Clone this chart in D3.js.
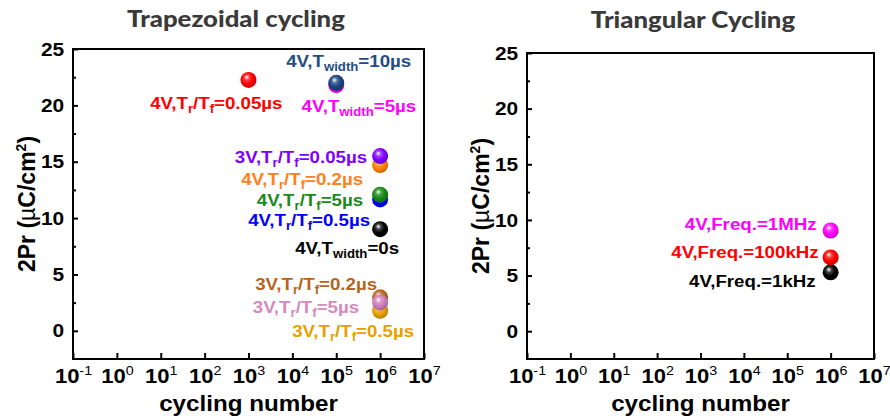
<!DOCTYPE html>
<html>
<head>
<meta charset="utf-8">
<script src="https://d3js.org/d3.v7.min.js"></script>
<style>
  body { margin: 0; background: #fff; }
  text { font-family: Arial, "Liberation Sans", sans-serif; font-weight: bold; }
</style>
</head>
<body>
<svg id="chart" width="890" height="420"></svg>
<script>
// axis ticks
var yTicks = [0, 5, 10, 15, 20, 25];
var yMinor = [2.5, 7.5, 12.5, 17.5, 22.5];
var xTicks = [1e-1, 1e0, 1e1, 1e2, 1e3, 1e4, 1e5, 1e6, 1e7];

// trapezoidal cycling (draw order: later points sit on top)
var trapNames = ["4V,T_{r}/T_{f}=0.05µs", "4V,T_{width}=5µs", "4V,T_{width}=10µs",
  "4V,T_{r}/T_{f}=0.2µs", "3V,T_{r}/T_{f}=0.05µs", "4V,T_{r}/T_{f}=0.5µs",
  "4V,T_{r}/T_{f}=5µs", "4V,T_{width}=0s", "3V,T_{r}/T_{f}=0.2µs",
  "3V,T_{r}/T_{f}=0.5µs", "3V,T_{r}/T_{f}=5µs"];
var trapCycles = [1e3, 1e5, 1e5, 1e6, 1e6, 1e6, 1e6, 1e6, 1e6, 1e6, 1e6];
var trap2Pr = [22.26, 21.8, 22.0, 14.7, 15.5, 11.66, 12.08, 9.02, 2.97, 1.78, 2.52];
var trapColors = ["#ff0000", "#ff00ff", "#1c4482", "#ff8000", "#8000ff", "#0000ff",
  "#138a13", "#000000", "#b5651d", "#e8a000", "#d07cba"];
var trapLabelColors = ["#ff0000", "#ff00ff", "#1f4e86", "#ff8020", "#8000ff", "#0000ff",
  "#1a8a1a", "#000000", "#b5651d", "#e8a000", "#d58abf"];
// label offset from its point, px (text anchored at its end)
var trapLabelDx = [34, 80, 75, -17, -13, -10, -17, 19, -3, 34, -21];
var trapLabelDy = [29, 27, -16, 20, 7, 27, 11, 25, -7, 26, 11];

// triangular cycling
var triNames = ["4V,Freq.=1kHz", "4V,Freq.=100kHz", "4V,Freq.=1MHz"];
var triCycles = [1e6, 1e6, 1e6];
var tri2Pr = [5.29, 6.63, 9.05];
var triColors = ["#000000", "#ff0000", "#ff00ff"];
var triLabelDx = [-15, -12, -14];
var triLabelDy = [15, 1, 0];

var svg = d3.select("#chart");
var defs = svg.append("defs");
var stretch = 1.1; // the picture text is a bit wide

function ballFill(color) {
  var id = "ball" + color.replace("#", "");
  if (defs.select("#" + id).empty()) {
    var gr = defs.append("radialGradient").attr("id", id)
      .attr("cx", 0.45).attr("cy", 0.42).attr("r", 0.6)
      .attr("fx", 0.38).attr("fy", 0.32);
    gr.append("stop").attr("offset", "0%").attr("stop-color", "#ffffff");
    gr.append("stop").attr("offset", "28%").attr("stop-color", d3.interpolateRgb(color, "#fff")(0.25));
    gr.append("stop").attr("offset", "60%").attr("stop-color", color);
    gr.append("stop").attr("offset", "100%").attr("stop-color", d3.color(color).darker(0.7));
  }
  return "url(#" + id + ")";
}

// text with _{sub} parts
function richText(t, str, size, subSize) {
  var parts = str.split(/(_\{[^}]*\})/);
  var shifted = false;
  parts.forEach(function(p) {
    if (!p) return;
    if (p.indexOf("_{") === 0) {
      t.append("tspan").attr("font-size", subSize).attr("dy", 4).text(p.slice(2, -1));
      shifted = true;
    } else {
      t.append("tspan").attr("font-size", size).attr("dy", shifted ? -4 : 0).text(p);
      shifted = false;
    }
  });
}

function drawPanel(p) {
  var g = svg.append("g");
  var x = d3.scaleLog().domain([1e-1, 1e7]).range([p.left, p.right]);
  var y = d3.scaleLinear().domain([-2.5, 25]).range([p.bottom, p.top]);

  // minor y ticks
  g.append("g").attr("transform", "translate(" + p.left + ",0)")
    .call(d3.axisLeft(y).tickValues(yMinor).tickSize(-3).tickFormat(""))
    .call(function(a) { a.select(".domain").remove(); })
    .selectAll("line").attr("stroke-width", 2);

  var ya = g.append("g").attr("transform", "translate(" + p.left + ",0)")
    .call(d3.axisLeft(y).tickValues(yTicks).tickSizeInner(-5).tickSizeOuter(0).tickPadding(8));
  ya.select(".domain").remove();
  ya.attr("font-family", null).attr("font-size", null);
  ya.selectAll("line").attr("stroke-width", 2);
  ya.selectAll("text").attr("font-size", 19).attr("fill", "#000")
    .attr("transform", "scale(" + stretch + ",1)");

  var xa = g.append("g").attr("transform", "translate(0," + p.bottom + ")")
    .call(d3.axisBottom(x).tickValues(xTicks).tickSizeInner(-6).tickSizeOuter(0).tickPadding(10));
  xa.select(".domain").remove();
  xa.attr("font-family", null).attr("font-size", null);
  xa.selectAll("line").attr("stroke-width", 2);
  xa.selectAll("text").each(function(d) {
    var t = d3.select(this).text("").attr("fill", "#000").attr("font-size", 20)
      .attr("transform", "scale(" + stretch + ",1)");
    t.append("tspan").text("10");
    t.append("tspan").attr("font-size", 13).attr("dy", -8).attr("font-weight", "normal")
      .text(Math.round(Math.log10(d)));
  });

  // frame
  g.append("rect")
    .attr("x", p.left).attr("y", p.top)
    .attr("width", p.right - p.left).attr("height", p.bottom - p.top)
    .attr("fill", "none").attr("stroke", "#000").attr("stroke-width", 2);

  // titles
  g.append("text")
    .attr("transform", "translate(" + p.titleX + "," + p.titleY + ") scale(1.12,1)")
    .attr("text-anchor", "middle")
    .style("font-family", "Lato, 'Open Sans', sans-serif")
    .style("font-weight", 900)
    .attr("font-size", 23).attr("fill", "#3a3a3a")
    .text(p.title);

  g.append("text")
    .attr("transform", "translate(" + ((p.left + p.right) / 2) + ",411) scale(" + stretch + ",1)")
    .attr("text-anchor", "middle").attr("font-size", 22).attr("fill", "#000")
    .text("cycling number");

  var yl = g.append("text")
    .attr("transform", "translate(" + (p.left - 38) + "," + ((p.top + p.bottom) / 2) + ") rotate(-90)")
    .attr("text-anchor", "middle").attr("font-size", 23).attr("fill", "#000");
  yl.append("tspan").text("2Pr (");
  yl.append("tspan").attr("font-weight", "normal").text("µ");
  yl.append("tspan").text("C/cm");
  yl.append("tspan").attr("font-size", 14).attr("dy", -9).text("2");
  yl.append("tspan").attr("dy", 9).text(")");

  // points
  var idx = d3.range(p.names.length);
  g.append("g").selectAll("circle").data(idx).enter().append("circle")
    .attr("cx", function(i) { return x(p.cycles[i]); })
    .attr("cy", function(i) { return y(p.values[i]); })
    .attr("r", 8)
    .attr("fill", function(i) { return ballFill(p.colors[i]); });

  // labels
  g.append("g").selectAll("text").data(idx).enter().append("text")
    .attr("transform", function(i) {
      return "translate(" + (x(p.cycles[i]) + p.dx[i]) + "," + (y(p.values[i]) + p.dy[i]) + ") scale(" + stretch + ",1)";
    })
    .attr("text-anchor", "end")
    .attr("fill", function(i) { return p.labelColors[i]; })
    .each(function(i) { richText(d3.select(this), p.names[i], 17, 12); });
}

drawPanel({
  left: 73, right: 424, top: 49, bottom: 359,
  title: "Trapezoidal cycling", titleX: 236, titleY: 27,
  names: trapNames, cycles: trapCycles, values: trap2Pr,
  colors: trapColors, labelColors: trapLabelColors, dx: trapLabelDx, dy: trapLabelDy
});

drawPanel({
  left: 527, right: 874, top: 53, bottom: 359,
  title: "Triangular Cycling", titleX: 693, titleY: 28,
  names: triNames, cycles: triCycles, values: tri2Pr,
  colors: triColors, labelColors: triColors, dx: triLabelDx, dy: triLabelDy
});
</script>
</body>
</html>
